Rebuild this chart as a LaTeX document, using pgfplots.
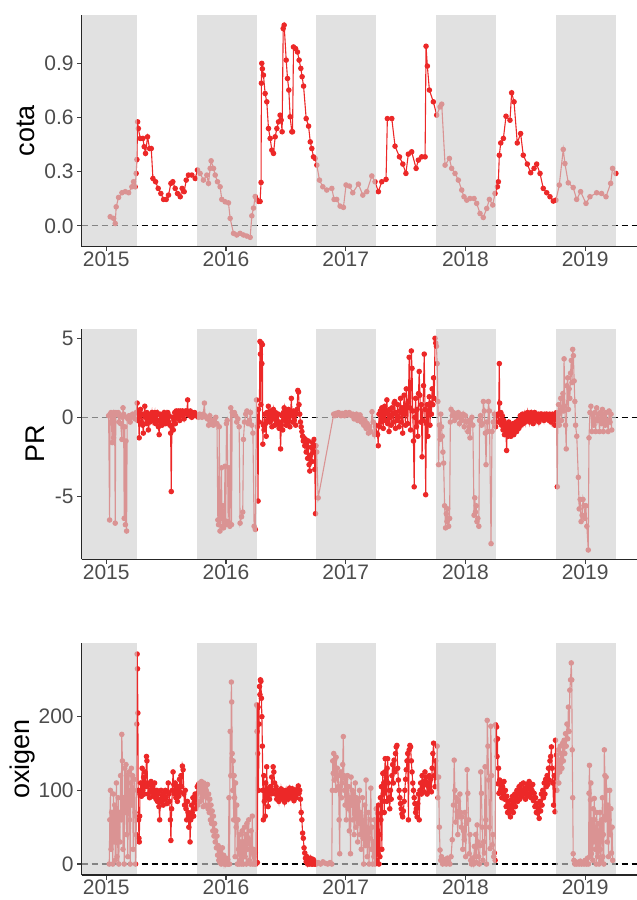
\documentclass[border=0pt]{standalone}
\usepackage{fontspec}
\setmainfont{Liberation Sans}
\usepackage{pgfplots}
\pgfplotsset{compat=1.18}
\definecolor{myred}{RGB}{236,40,40}
\definecolor{bandgray}{RGB}{208,208,208}
\pgfplotsset{
  panel/.style={
    scale only axis, width=555.3pt, xmin=2014.795, xmax=2019.433,
    axis x line*=bottom, axis y line*=left,
    axis line style={black!85, line width=1.1pt},
    xtick={2015,2016,2017,2018,2019},
    xticklabels={2015,2016,2017,2018,2019},
    tick align=outside, major tick length=4.5pt,
    tick style={line width=1.1pt, color=black!75},
    /pgf/number format/assume math mode=true,
    tick label style={font=\fontsize{21}{21}\selectfont, text=black!70},
    xticklabel style={yshift=3pt},
    ylabel style={font=\fontsize{27}{27}\selectfont, text=black, anchor=center},
    axis on top, clip marker paths=true,
  },
  series/.style={myred, line width=1.1pt, mark=*, mark size=2.2pt, mark options={solid, fill=myred, draw=myred}},
}
\newcommand{\bands}[2]{%
  \fill[bandgray, opacity=0.64] (axis cs:2014.70,#1) rectangle (axis cs:2015.256,#2);
  \fill[bandgray, opacity=0.64] (axis cs:2015.755,#1) rectangle (axis cs:2016.256,#2);
  \fill[bandgray, opacity=0.64] (axis cs:2016.755,#1) rectangle (axis cs:2017.256,#2);
  \fill[bandgray, opacity=0.64] (axis cs:2017.755,#1) rectangle (axis cs:2018.256,#2);
  \fill[bandgray, opacity=0.64] (axis cs:2018.755,#1) rectangle (axis cs:2019.256,#2);
}
\newcommand{\zeroline}{\draw[black, line width=1.1pt, dash pattern=on 6pt off 4pt] (axis cs:2014.795,0) -- (axis cs:2019.433,0);}
\begin{document}
\begin{tikzpicture}
\useasboundingbox (0,0) rectangle (637pt,-900pt);
% ---------------- cota ----------------
\begin{axis}[panel, at={(81.7pt,-246.7pt)}, anchor=south west, height=231.7pt,
  ymin=-0.116, ymax=1.168, ytick={0,0.3,0.6,0.9}, yticklabels={0.0,0.3,0.6,0.9},
  ylabel={cota}, ylabel style={at={(axis description cs:-0.1003,0.5)}}]
\zeroline
\addplot[series] table {
x y
2015.033 0.050
2015.061 0.041
2015.075 0.013
2015.083 0.105
2015.103 0.157
2015.131 0.183
2015.159 0.189
2015.187 0.183
2015.214 0.216
2015.228 0.244
2015.242 0.216
2015.250 0.290
2015.256 0.367
2015.262 0.576
2015.268 0.539
2015.284 0.484
2015.306 0.484
2015.317 0.438
2015.328 0.401
2015.345 0.493
2015.362 0.428
2015.376 0.428
2015.390 0.262
2015.412 0.244
2015.434 0.207
2015.456 0.179
2015.479 0.146
2015.501 0.146
2015.520 0.170
2015.540 0.235
2015.556 0.244
2015.576 0.207
2015.595 0.179
2015.618 0.161
2015.634 0.207
2015.651 0.189
2015.668 0.253
2015.687 0.281
2015.715 0.281
2015.743 0.262
2015.762 0.309
2015.784 0.290
2015.812 0.253
2015.840 0.281
2015.854 0.235
2015.868 0.318
2015.876 0.360
2015.896 0.318
2015.910 0.281
2015.929 0.244
2015.951 0.216
2015.965 0.146
2015.993 0.133
2016.021 0.127
2016.035 0.041
2016.063 -0.042
2016.090 -0.051
2016.118 -0.042
2016.146 -0.051
2016.174 -0.057
2016.202 -0.064
2016.216 0.055
2016.230 0.098
2016.244 0.162
2016.257 0.144
2016.271 0.135
2016.285 0.135
2016.293 0.240
2016.296 0.790
2016.299 0.900
2016.304 0.870
2016.313 0.835
2016.327 0.733
2016.341 0.687
2016.355 0.539
2016.369 0.484
2016.383 0.419
2016.397 0.401
2016.411 0.493
2016.425 0.539
2016.439 0.576
2016.452 0.613
2016.461 0.585
2016.469 0.521
2016.478 1.093
2016.486 1.112
2016.503 0.918
2016.514 0.816
2016.525 0.752
2016.536 0.604
2016.550 0.521
2016.556 0.521
2016.564 0.991
2016.581 0.982
2016.597 0.963
2016.611 0.918
2016.625 0.872
2016.636 0.826
2016.648 0.774
2016.670 0.594
2016.690 0.552
2016.704 0.465
2016.717 0.428
2016.731 0.382
2016.745 0.373
2016.759 0.336
2016.781 0.253
2016.809 0.216
2016.842 0.198
2016.884 0.207
2016.903 0.146
2016.925 0.146
2016.953 0.109
2016.981 0.102
2017.003 0.226
2017.031 0.220
2017.059 0.183
2017.106 0.231
2017.143 0.170
2017.176 0.189
2017.218 0.276
2017.245 0.244
2017.273 0.189
2017.301 0.244
2017.337 0.257
2017.348 0.594
2017.385 0.594
2017.412 0.441
2017.449 0.382
2017.477 0.342
2017.503 0.290
2017.523 0.397
2017.551 0.410
2017.588 0.318
2017.607 0.364
2017.635 0.382
2017.663 0.382
2017.671 0.995
2017.682 0.885
2017.699 0.752
2017.732 0.687
2017.760 0.613
2017.788 0.659
2017.802 0.674
2017.830 0.336
2017.866 0.373
2017.885 0.318
2017.913 0.290
2017.941 0.253
2017.969 0.198
2017.988 0.161
2018.011 0.142
2018.038 0.151
2018.072 0.151
2018.094 0.124
2018.122 0.068
2018.149 0.046
2018.178 0.096
2018.200 0.146
2018.228 0.115
2018.247 0.179
2018.267 0.216
2018.275 0.244
2018.283 0.391
2018.295 0.459
2018.317 0.484
2018.339 0.607
2018.372 0.585
2018.386 0.737
2018.406 0.687
2018.433 0.459
2018.461 0.511
2018.483 0.391
2018.517 0.342
2018.545 0.294
2018.573 0.318
2018.595 0.342
2018.623 0.290
2018.650 0.207
2018.679 0.183
2018.706 0.161
2018.734 0.137
2018.756 0.142
2018.784 0.226
2018.817 0.423
2018.831 0.345
2018.859 0.238
2018.900 0.212
2018.929 0.146
2018.962 0.189
2019.007 0.124
2019.040 0.161
2019.096 0.183
2019.137 0.179
2019.174 0.161
2019.213 0.235
2019.229 0.318
2019.257 0.290
};
\bands{-1}{2}
\end{axis}
% ---------------- PR ----------------
\begin{axis}[panel, at={(81.7pt,-559.3pt)}, anchor=south west, height=230.3pt,
  ymin=-8.99, ymax=5.59, ytick={-5,0,5}, yticklabels={-5,0,5},
  ylabel={PR}, ylabel style={at={(axis description cs:-0.084,0.5)}}]
\zeroline
\addplot[series] table {
x y
2015.020 0.1
2015.028 -6.5
2015.032 0.2
2015.040 0.3
2015.050 -1.6
2015.055 0.1
2015.061 -1.3
2015.066 0.3
2015.070 0.2
2015.075 -6.7
2015.080 0.3
2015.090 0.2
2015.100 0.3
2015.105 -0.3
2015.110 0.1
2015.120 -0.4
2015.131 -1.4
2015.136 0.0
2015.140 0.6
2015.145 0.2
2015.150 -6.4
2015.155 -0.6
2015.160 -6.8
2015.165 -1.5
2015.170 -7.2
2015.175 0.0
2015.180 -0.1
2015.190 0.1
2015.200 -0.3
2015.210 0.0
2015.220 0.2
2015.230 0.1
2015.240 -0.1
2015.250 0.3
2015.258 0.9
2015.262 -0.2
2015.268 0.3
2015.275 -1.3
2015.280 0.1
2015.286 0.5
2015.292 -0.3
2015.298 0.2
2015.304 -0.5
2015.310 -1.0
2015.316 0.2
2015.322 0.7
2015.328 0.0
2015.334 -0.4
2015.340 0.3
2015.346 -0.2
2015.352 -0.8
2015.358 0.1
2015.364 -0.3
2015.370 0.2
2015.376 -0.1
2015.382 0.3
2015.388 -0.2
2015.394 0.2
2015.400 0.0
2015.406 0.3
2015.412 -0.4
2015.418 0.1
2015.424 0.3
2015.430 -0.2
2015.436 -0.6
2015.442 -1.1
2015.448 0.2
2015.454 -0.3
2015.460 0.1
2015.466 -0.5
2015.472 0.2
2015.478 -0.2
2015.484 0.3
2015.490 0.1
2015.496 -0.4
2015.502 0.2
2015.508 -0.1
2015.514 0.3
2015.520 -0.3
2015.526 0.1
2015.532 -0.5
2015.538 -1.0
2015.543 -4.7
2015.548 -0.6
2015.554 0.0
2015.560 -0.8
2015.566 -0.2
2015.572 0.3
2015.578 -0.4
2015.584 0.4
2015.590 0.0
2015.596 0.3
2015.602 0.4
2015.608 0.2
2015.614 -0.2
2015.620 0.4
2015.626 0.3
2015.632 0.1
2015.638 0.4
2015.644 0.2
2015.650 -0.1
2015.656 0.3
2015.662 0.4
2015.668 0.2
2015.674 0.4
2015.680 1.1
2015.684 0.2
2015.690 0.3
2015.696 0.1
2015.702 0.4
2015.708 0.2
2015.714 0.0
2015.720 0.3
2015.726 0.2
2015.732 0.1
2015.738 0.3
2015.744 0.2
2015.750 0.1
2015.760 0.1
2015.770 0.0
2015.780 0.2
2015.790 0.1
2015.800 0.0
2015.810 0.2
2015.820 0.9
2015.825 0.1
2015.835 0.0
2015.845 -0.1
2015.855 -0.5
2015.865 0.1
2015.875 -0.4
2015.885 -0.2
2015.895 -0.5
2015.905 -0.3
2015.915 0.0
2015.925 -0.4
2015.932 -6.5
2015.938 -6.8
2015.944 -0.6
2015.950 -7.2
2015.956 -6.4
2015.962 -3.2
2015.968 -6.9
2015.974 -5.6
2015.980 -7.0
2015.986 -6.5
2015.992 -3.1
2015.998 -6.8
2016.004 -0.4
2016.010 -0.2
2016.018 -6.6
2016.025 -3.2
2016.032 -6.9
2016.040 0.6
2016.046 -6.8
2016.052 0.3
2016.060 0.2
2016.070 0.3
2016.080 0.1
2016.090 -0.3
2016.100 -0.1
2016.110 -0.6
2016.118 -6.7
2016.130 -6.3
2016.140 -6.0
2016.146 -1.4
2016.155 -0.3
2016.165 0.2
2016.175 0.4
2016.185 -0.4
2016.195 -0.2
2016.205 0.3
2016.215 -0.5
2016.225 -1.0
2016.235 -6.9
2016.245 -7.1
2016.255 1.1
2016.262 -0.6
2016.268 -5.3
2016.272 0.5
2016.278 -0.3
2016.284 4.8
2016.288 4.0
2016.292 0.8
2016.296 4.7
2016.300 3.4
2016.304 4.6
2016.308 -1.7
2016.312 -0.5
2016.318 -0.8
2016.324 0.2
2016.330 -0.4
2016.336 -1.2
2016.342 0.3
2016.348 -0.2
2016.354 0.7
2016.360 0.1
2016.366 -0.3
2016.372 0.4
2016.378 0.0
2016.384 -0.6
2016.390 0.2
2016.396 0.5
2016.402 -0.1
2016.408 -0.5
2016.414 0.3
2016.420 -0.2
2016.426 0.1
2016.432 -0.4
2016.438 0.2
2016.444 -0.7
2016.450 -0.3
2016.456 -2.0
2016.462 -0.5
2016.468 0.1
2016.474 -0.8
2016.480 0.3
2016.486 0.6
2016.492 -0.2
2016.498 0.2
2016.504 -0.5
2016.510 0.4
2016.516 -0.3
2016.522 0.5
2016.528 0.0
2016.534 -0.6
2016.540 0.3
2016.546 1.2
2016.552 0.2
2016.558 -0.3
2016.564 0.4
2016.570 -0.2
2016.576 0.3
2016.582 -0.5
2016.588 0.2
2016.594 0.5
2016.600 1.7
2016.606 1.6
2016.610 0.8
2016.616 0.2
2016.622 -0.3
2016.628 -0.6
2016.634 -0.9
2016.640 -1.2
2016.646 -1.5
2016.652 -1.3
2016.658 -1.8
2016.664 -1.4
2016.670 -2.2
2016.676 -1.6
2016.682 -2.6
2016.688 -1.5
2016.694 -3.0
2016.700 -3.4
2016.706 -2.4
2016.712 -1.9
2016.718 -2.8
2016.724 -1.6
2016.730 -2.2
2016.736 -1.4
2016.742 -3.3
2016.748 -6.1
2016.752 -1.8
2016.758 -2.2
2016.770 -5.1
2016.900 0.2
2016.910 0.1
2016.920 0.25
2016.930 0.15
2016.940 0.3
2016.950 0.2
2016.960 0.1
2016.970 0.25
2016.980 0.2
2016.990 0.1
2017.000 0.3
2017.010 0.2
2017.020 0.15
2017.030 0.3
2017.040 0.2
2017.050 0.1
2017.060 0.2
2017.070 -0.1
2017.080 0.1
2017.090 0.2
2017.100 -0.2
2017.110 0.0
2017.120 0.15
2017.130 -0.3
2017.140 -0.1
2017.150 -0.5
2017.160 -0.2
2017.170 -0.7
2017.180 -0.4
2017.190 -1.0
2017.200 -0.6
2017.210 -0.9
2017.220 0.35
2017.230 -0.3
2017.240 -1.1
2017.250 -0.5
2017.260 -1.0
2017.266 -1.1
2017.272 -1.8
2017.278 0.2
2017.284 -0.6
2017.290 0.4
2017.296 -0.3
2017.302 0.6
2017.308 0.0
2017.314 -0.7
2017.320 0.3
2017.326 0.7
2017.332 -0.2
2017.338 0.4
2017.344 1.1
2017.350 -0.4
2017.356 0.2
2017.362 -0.9
2017.368 0.5
2017.374 0.1
2017.380 -0.5
2017.386 0.6
2017.392 0.2
2017.398 -0.3
2017.404 0.9
2017.410 1.0
2017.416 -0.7
2017.422 0.3
2017.428 -0.2
2017.434 0.8
2017.440 0.0
2017.446 -0.6
2017.452 0.4
2017.458 1.2
2017.464 -0.3
2017.470 0.6
2017.476 -1.0
2017.482 0.5
2017.488 1.4
2017.494 0.2
2017.500 -0.5
2017.506 1.8
2017.512 0.8
2017.518 -0.4
2017.524 1.0
2017.530 3.8
2017.536 0.6
2017.542 -0.8
2017.548 4.2
2017.554 3.1
2017.560 0.4
2017.566 -1.5
2017.572 -4.4
2017.578 0.0
2017.584 1.2
2017.590 -0.6
2017.596 0.5
2017.602 -1.2
2017.608 1.5
2017.614 2.9
2017.620 1.4
2017.626 -0.3
2017.632 0.8
2017.638 -2.5
2017.644 -0.2
2017.650 2.0
2017.656 4.0
2017.662 0.5
2017.668 -4.9
2017.674 -0.4
2017.680 0.8
2017.686 -1.2
2017.692 0.3
2017.698 1.3
2017.704 -0.5
2017.710 0.9
2017.716 0.2
2017.722 1.8
2017.728 0.8
2017.734 2.5
2017.740 1.2
2017.746 5.0
2017.752 4.7
2017.758 4.5
2017.764 3.4
2017.770 1.0
2017.776 -3.0
2017.782 -0.5
2017.788 -1.4
2017.794 0.2
2017.800 -0.6
2017.806 -1.2
2017.812 -2.2
2017.818 -2.9
2017.826 -5.6
2017.834 -7.0
2017.840 -6.1
2017.846 -6.6
2017.852 -5.8
2017.860 -6.9
2017.868 -6.4
2017.874 -0.3
2017.880 0.5
2017.890 0.1
2017.900 0.3
2017.910 -0.2
2017.920 0.2
2017.930 0.0
2017.940 0.3
2017.950 -0.4
2017.960 0.1
2017.970 -0.2
2017.980 0.2
2017.990 -0.6
2018.000 0.1
2018.010 -0.3
2018.020 -0.9
2018.030 -0.2
2018.038 -1.3
2018.046 -0.4
2018.054 0.0
2018.062 -0.5
2018.072 -6.2
2018.078 -5.1
2018.084 -6.0
2018.090 -5.6
2018.096 -6.6
2018.104 -6.4
2018.112 -6.9
2018.118 -0.2
2018.126 0.1
2018.134 -0.5
2018.142 -0.4
2018.150 1.0
2018.158 0.4
2018.166 -1.0
2018.172 -3.0
2018.180 -0.3
2018.186 -0.9
2018.192 1.0
2018.200 0.4
2018.214 -8.0
2018.222 -0.9
2018.232 -0.3
2018.242 0.2
2018.252 -0.6
2018.262 0.1
2018.270 0.2
2018.276 -0.3
2018.283 3.4
2018.286 0.9
2018.290 -0.2
2018.296 0.3
2018.302 -0.5
2018.308 0.1
2018.314 -0.8
2018.320 -0.2
2018.326 -1.1
2018.332 -0.4
2018.338 -0.9
2018.344 -2.1
2018.350 -0.6
2018.356 -1.2
2018.362 -0.3
2018.368 -1.0
2018.374 -0.5
2018.380 -1.2
2018.386 -0.7
2018.392 -0.9
2018.398 -0.4
2018.404 -1.1
2018.410 -0.6
2018.416 -0.8
2018.422 -0.3
2018.428 -0.9
2018.434 -0.5
2018.440 -0.2
2018.446 -0.7
2018.452 -0.4
2018.458 0.1
2018.464 -0.5
2018.470 -0.2
2018.476 0.2
2018.482 -0.4
2018.488 -0.1
2018.494 0.2
2018.500 -0.3
2018.506 0.1
2018.512 -0.2
2018.518 0.3
2018.524 -0.1
2018.530 0.2
2018.536 -0.3
2018.542 0.1
2018.548 0.3
2018.554 -0.2
2018.560 0.2
2018.566 -0.4
2018.572 0.1
2018.578 0.3
2018.584 -0.1
2018.590 0.2
2018.596 -0.2
2018.602 0.1
2018.608 0.2
2018.614 -0.3
2018.620 0.1
2018.626 0.2
2018.632 -0.1
2018.638 0.2
2018.644 0.0
2018.650 0.1
2018.656 -0.2
2018.662 0.2
2018.668 0.1
2018.674 -0.1
2018.680 0.2
2018.686 0.0
2018.692 0.1
2018.698 -0.2
2018.704 0.2
2018.710 0.1
2018.716 -0.3
2018.722 0.1
2018.728 0.2
2018.734 -0.1
2018.740 0.1
2018.746 -0.5
2018.752 0.2
2018.760 0.3
2018.767 -4.4
2018.772 0.2
2018.778 0.8
2018.784 -0.5
2018.790 0.3
2018.796 1.2
2018.802 -0.2
2018.808 0.6
2018.814 1.5
2018.820 0.4
2018.824 3.7
2018.830 0.7
2018.836 -0.5
2018.842 -2.0
2018.848 2.0
2018.854 2.5
2018.860 0.5
2018.866 1.8
2018.872 1.2
2018.878 2.8
2018.884 3.6
2018.890 2.2
2018.896 4.3
2018.902 3.9
2018.908 2.3
2018.914 1.0
2018.920 -0.5
2018.930 -1.2
2018.943 -3.8
2018.950 -5.8
2018.958 -5.2
2018.966 -6.6
2018.974 -6.2
2018.982 -5.2
2018.990 -5.6
2018.998 -6.4
2019.006 -5.6
2019.014 -6.9
2019.026 -8.4
2019.032 -1.3
2019.040 0.3
2019.048 0.7
2019.056 -0.9
2019.064 0.2
2019.072 -0.5
2019.080 0.3
2019.088 -0.9
2019.096 0.6
2019.104 -0.2
2019.112 0.2
2019.120 -0.9
2019.128 0.3
2019.136 -0.4
2019.144 0.5
2019.152 -0.9
2019.160 0.2
2019.168 -0.5
2019.176 0.3
2019.184 -0.2
2019.192 -0.9
2019.200 0.4
2019.208 -0.3
2019.216 0.2
2019.222 -0.8
};
\bands{-20}{20}
\end{axis}
% ---------------- oxigen ----------------
\begin{axis}[panel, at={(81.7pt,-875pt)}, anchor=south west, height=231.7pt,
  ymin=-14.9, ymax=299.6, ytick={0,100,200}, yticklabels={0,100,200},
  ylabel={oxigen}, ylabel style={at={(axis description cs:-0.106,0.5)}}]
\zeroline
\addplot[series] table {
x y
2015.025 0
2015.030 60
2015.035 100
2015.040 20
2015.045 70
2015.050 40
2015.055 0
2015.060 95
2015.065 30
2015.070 80
2015.075 5
2015.080 60
2015.085 110
2015.090 10
2015.095 50
2015.100 90
2015.105 0
2015.110 70
2015.115 30
2015.120 120
2015.125 60
2015.130 176
2015.135 140
2015.140 20
2015.145 90
2015.150 0
2015.155 130
2015.160 70
2015.165 135
2015.170 40
2015.175 120
2015.180 10
2015.185 100
2015.190 125
2015.195 60
2015.200 0
2015.205 110
2015.210 130
2015.215 80
2015.220 120
2015.225 20
2015.230 100
2015.235 115
2015.240 70
2015.245 0
2015.250 40
2015.255 190
2015.258 285
2015.261 265
2015.264 205
2015.267 100
2015.270 60
2015.273 35
2015.276 30
2015.279 65
2015.282 95
2015.288 110
2015.294 92
2015.300 130
2015.306 100
2015.312 118
2015.318 95
2015.324 125
2015.330 105
2015.336 146
2015.340 140
2015.344 110
2015.350 95
2015.356 108
2015.362 90
2015.368 100
2015.374 112
2015.380 98
2015.386 105
2015.392 92
2015.398 100
2015.404 110
2015.410 94
2015.416 88
2015.422 100
2015.428 85
2015.434 95
2015.440 78
2015.446 60
2015.452 88
2015.458 100
2015.464 85
2015.470 92
2015.476 80
2015.482 95
2015.488 88
2015.494 100
2015.500 90
2015.506 82
2015.512 98
2015.518 110
2015.524 95
2015.530 85
2015.536 60
2015.540 32
2015.546 75
2015.552 100
2015.558 125
2015.564 108
2015.570 95
2015.576 110
2015.582 90
2015.588 100
2015.594 85
2015.600 105
2015.606 92
2015.612 115
2015.618 98
2015.624 120
2015.630 105
2015.636 133
2015.642 128
2015.648 95
2015.654 80
2015.660 100
2015.666 75
2015.672 60
2015.678 85
2015.684 70
2015.690 50
2015.696 65
2015.700 30
2015.706 60
2015.712 80
2015.718 70
2015.724 90
2015.730 65
2015.736 85
2015.742 95
2015.748 75
2015.755 95
2015.760 105
2015.765 80
2015.770 108
2015.775 98
2015.780 110
2015.785 85
2015.790 104
2015.795 112
2015.800 90
2015.805 108
2015.810 78
2015.815 110
2015.820 95
2015.825 105
2015.830 80
2015.835 100
2015.840 90
2015.845 108
2015.850 75
2015.855 95
2015.860 70
2015.865 88
2015.870 60
2015.875 80
2015.880 55
2015.885 72
2015.890 45
2015.895 65
2015.900 38
2015.905 55
2015.910 30
2015.915 45
2015.920 22
2015.925 38
2015.930 12
2015.935 25
2015.940 5
2015.945 18
2015.950 2
2015.955 15
2015.960 0
2015.965 10
2015.970 22
2015.975 3
2015.980 12
2015.985 0
2015.990 5
2015.995 0
2016.000 8
2016.005 2
2016.010 0
2016.015 6
2016.020 0
2016.025 90
2016.030 0
2016.035 180
2016.040 120
2016.045 247
2016.048 220
2016.052 150
2016.056 100
2016.060 140
2016.064 60
2016.068 120
2016.072 90
2016.076 10
2016.080 110
2016.085 50
2016.090 80
2016.095 0
2016.100 60
2016.105 20
2016.110 0
2016.115 40
2016.120 5
2016.125 30
2016.130 0
2016.135 45
2016.140 15
2016.145 0
2016.150 30
2016.155 50
2016.160 10
2016.165 40
2016.170 0
2016.175 55
2016.180 20
2016.185 35
2016.190 60
2016.195 5
2016.200 30
2016.205 0
2016.210 45
2016.215 15
2016.220 65
2016.225 0
2016.230 20
2016.235 10
2016.240 0
2016.245 15
2016.250 0
2016.256 216
2016.259 180
2016.262 2
2016.265 150
2016.268 213
2016.272 100
2016.276 190
2016.280 241
2016.284 230
2016.288 250
2016.292 248
2016.296 225
2016.300 200
2016.304 160
2016.308 100
2016.312 60
2016.316 120
2016.320 85
2016.324 100
2016.328 65
2016.332 110
2016.336 90
2016.340 132
2016.346 95
2016.352 78
2016.358 100
2016.364 88
2016.370 105
2016.376 95
2016.382 118
2016.388 100
2016.394 132
2016.400 125
2016.406 110
2016.412 95
2016.418 105
2016.424 88
2016.430 100
2016.436 92
2016.442 85
2016.448 98
2016.454 90
2016.460 102
2016.466 94
2016.472 88
2016.478 100
2016.484 96
2016.490 84
2016.496 92
2016.502 100
2016.508 90
2016.514 97
2016.520 88
2016.526 94
2016.532 103
2016.538 98
2016.544 90
2016.550 96
2016.556 102
2016.562 94
2016.568 86
2016.574 92
2016.580 98
2016.586 90
2016.592 95
2016.598 102
2016.604 106
2016.610 96
2016.616 100
2016.622 88
2016.628 70
2016.634 60
2016.640 42
2016.646 35
2016.652 22
2016.658 15
2016.664 8
2016.670 3
2016.676 10
2016.682 0
2016.688 5
2016.694 0
2016.700 2
2016.706 8
2016.712 0
2016.718 4
2016.724 0
2016.730 6
2016.736 0
2016.742 3
2016.748 0
2016.754 0
2016.770 2
2016.790 0
2016.810 3
2016.830 1
2016.850 0
2016.870 2
2016.884 0
2016.888 100
2016.892 140
2016.896 123
2016.900 150
2016.904 114
2016.908 141
2016.912 128
2016.916 100
2016.920 145
2016.925 118
2016.930 130
2016.935 105
2016.940 120
2016.945 60
2016.950 14
2016.955 105
2016.960 125
2016.965 90
2016.970 110
2016.975 135
2016.980 173
2016.985 120
2016.990 100
2016.995 80
2017.000 115
2017.005 60
2017.010 95
2017.015 120
2017.020 75
2017.025 105
2017.030 45
2017.035 90
2017.040 14
2017.045 118
2017.050 80
2017.055 100
2017.060 60
2017.065 95
2017.070 40
2017.075 85
2017.080 110
2017.085 50
2017.090 90
2017.095 70
2017.100 30
2017.105 85
2017.110 55
2017.115 100
2017.120 40
2017.125 70
2017.130 20
2017.135 60
2017.140 90
2017.145 35
2017.150 0
2017.155 55
2017.160 80
2017.165 25
2017.170 114
2017.175 50
2017.180 10
2017.185 45
2017.190 70
2017.195 0
2017.200 35
2017.205 60
2017.210 103
2017.215 20
2017.220 50
2017.225 0
2017.230 30
2017.235 10
2017.240 60
2017.245 0
2017.250 20
2017.255 75
2017.260 5
2017.266 69
2017.270 14
2017.274 80
2017.278 0
2017.282 40
2017.286 10
2017.290 90
2017.294 60
2017.298 105
2017.302 20
2017.306 85
2017.310 123
2017.314 95
2017.318 110
2017.322 70
2017.326 125
2017.330 143
2017.334 100
2017.338 118
2017.342 85
2017.346 130
2017.350 143
2017.356 110
2017.362 90
2017.368 75
2017.374 100
2017.380 88
2017.386 120
2017.392 135
2017.398 110
2017.404 141
2017.410 125
2017.416 150
2017.422 159
2017.428 161
2017.434 130
2017.440 114
2017.446 100
2017.452 90
2017.458 82
2017.464 75
2017.470 68
2017.476 64
2017.482 72
2017.488 85
2017.494 100
2017.500 115
2017.506 128
2017.512 140
2017.518 150
2017.524 60
2017.530 155
2017.536 161
2017.542 159
2017.548 140
2017.554 125
2017.560 110
2017.566 100
2017.572 90
2017.578 82
2017.584 70
2017.590 75
2017.596 64
2017.602 82
2017.608 95
2017.614 60
2017.620 100
2017.626 110
2017.632 95
2017.638 120
2017.644 105
2017.650 112
2017.656 98
2017.662 125
2017.668 108
2017.674 118
2017.680 95
2017.686 110
2017.692 105
2017.698 120
2017.704 100
2017.710 115
2017.716 98
2017.722 130
2017.728 150
2017.734 164
2017.740 120
2017.746 105
2017.752 140
2017.758 118
2017.764 160
2017.770 90
2017.776 118
2017.782 50
2017.788 19
2017.794 5
2017.800 10
2017.810 0
2017.820 6
2017.830 2
2017.840 0
2017.850 8
2017.860 3
2017.870 0
2017.880 10
2017.890 33
2017.900 80
2017.906 141
2017.912 100
2017.918 57
2017.924 90
2017.930 71
2017.936 40
2017.942 85
2017.948 64
2017.954 95
2017.960 70
2017.966 50
2017.972 64
2017.978 20
2017.984 45
2017.990 33
2017.996 70
2018.002 10
2018.008 55
2018.014 128
2018.020 96
2018.026 60
2018.032 14
2018.038 40
2018.044 5
2018.050 0
2018.056 8
2018.062 5
2018.068 0
2018.074 24
2018.080 10
2018.086 40
2018.092 2
2018.098 53
2018.104 30
2018.110 10
2018.116 0
2018.122 25
2018.128 125
2018.134 96
2018.140 50
2018.146 5
2018.152 30
2018.158 15
2018.164 132
2018.170 60
2018.176 0
2018.182 195
2018.188 160
2018.194 114
2018.200 50
2018.206 21
2018.212 187
2018.218 120
2018.224 26
2018.230 40
2018.236 10
2018.242 15
2018.248 5
2018.252 189
2018.256 168
2018.260 186
2018.264 146
2018.268 170
2018.272 109
2018.276 130
2018.280 96
2018.286 114
2018.292 100
2018.298 109
2018.304 90
2018.310 105
2018.316 96
2018.322 112
2018.328 88
2018.334 100
2018.340 78
2018.346 92
2018.352 70
2018.358 85
2018.364 69
2018.370 80
2018.376 64
2018.382 87
2018.388 75
2018.394 92
2018.400 70
2018.406 85
2018.412 95
2018.418 78
2018.424 90
2018.430 100
2018.436 85
2018.442 95
2018.448 105
2018.454 88
2018.460 98
2018.466 108
2018.472 92
2018.478 100
2018.484 110
2018.490 95
2018.496 103
2018.502 88
2018.508 100
2018.514 108
2018.520 92
2018.526 102
2018.532 112
2018.538 95
2018.544 104
2018.550 90
2018.556 100
2018.562 108
2018.568 86
2018.574 96
2018.580 78
2018.586 90
2018.592 70
2018.598 82
2018.604 69
2018.610 75
2018.616 62
2018.622 85
2018.628 72
2018.634 95
2018.640 80
2018.646 100
2018.652 90
2018.658 110
2018.664 95
2018.670 115
2018.676 105
2018.682 120
2018.688 108
2018.694 130
2018.700 114
2018.706 140
2018.712 146
2018.718 159
2018.724 130
2018.730 110
2018.736 80
2018.742 120
2018.748 71
2018.752 168
2018.756 120
2018.760 148
2018.764 100
2018.768 123
2018.772 137
2018.776 155
2018.780 110
2018.784 140
2018.788 125
2018.792 160
2018.796 137
2018.800 150
2018.806 130
2018.812 164
2018.818 140
2018.824 168
2018.830 150
2018.836 177
2018.842 160
2018.848 190
2018.854 170
2018.860 213
2018.866 180
2018.872 236
2018.878 250
2018.884 273
2018.888 250
2018.892 155
2018.896 90
2018.900 14
2018.906 5
2018.914 0
2018.922 3
2018.930 0
2018.940 2
2018.950 0
2018.960 4
2018.970 0
2018.980 2
2018.990 0
2019.000 5
2019.010 0
2019.020 8
2019.028 0
2019.032 96
2019.036 134
2019.040 10
2019.044 87
2019.048 110
2019.052 14
2019.056 60
2019.060 40
2019.064 5
2019.068 75
2019.072 30
2019.076 89
2019.080 60
2019.084 20
2019.088 50
2019.092 0
2019.096 70
2019.100 35
2019.104 10
2019.108 55
2019.112 25
2019.116 0
2019.120 45
2019.124 70
2019.128 20
2019.132 5
2019.136 60
2019.140 30
2019.144 90
2019.148 10
2019.152 40
2019.156 0
2019.160 155
2019.165 120
2019.170 60
2019.175 118
2019.180 100
2019.185 30
2019.190 80
2019.195 10
2019.200 60
2019.205 100
2019.210 40
2019.215 75
2019.220 15
2019.225 50
2019.230 5
};
\bands{-100}{400}
\end{axis}
\end{tikzpicture}
\end{document}
